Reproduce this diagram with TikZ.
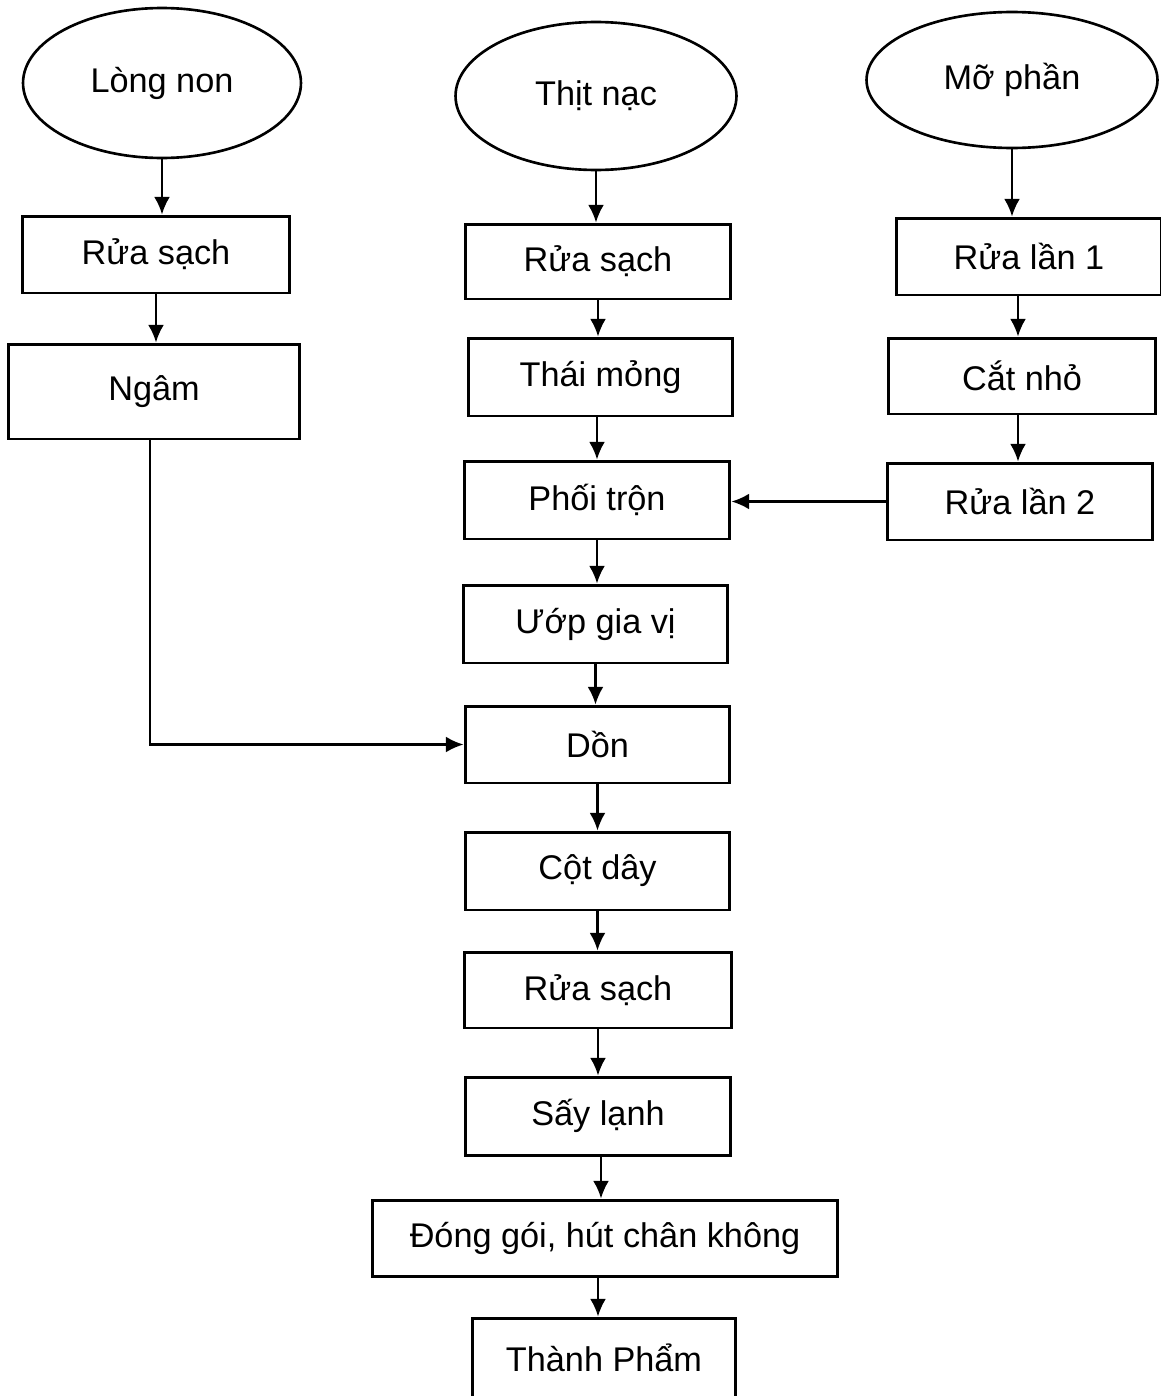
\documentclass[tikz,border=0pt]{standalone}
\usepackage{fontspec}
\setmainfont{Liberation Sans}
\usetikzlibrary{shapes.geometric,arrows.meta}
\begin{document}
\begin{tikzpicture}[x=0.02cm,y=-0.02cm,
  every node/.style={font=\fontsize{19.5}{22}\selectfont, inner sep=0pt},
  oval/.style={draw, line width=1.5pt, ellipse},
  box/.style={draw, line width=1.7pt, rectangle},
  arr/.style={line width=1.3pt, -{Latex[length=10pt,width=9pt]}}]
\useasboundingbox (0,0) rectangle (1160,1396);
% ellipses
\node[oval, minimum width=5.56cm, minimum height=3.0cm] (e1) at (162,83) {Lòng non};
\node[oval, minimum width=5.62cm, minimum height=2.96cm] (e2) at (596,96) {Thịt nạc};
\node[oval, minimum width=5.82cm, minimum height=2.72cm] (e3) at (1012,80) {Mỡ phần};
% left column
\node[box, minimum width=5.36cm, minimum height=1.54cm] (l1) at (156,254.5) {Rửa sạch};
\node[box, minimum width=5.84cm, minimum height=1.9cm] (l2) at (154,391.5) {Ngâm};
% center column
\node[box, minimum width=5.32cm, minimum height=1.5cm] (c1) at (598,261.5) {Rửa sạch};
\node[box, minimum width=5.3cm, minimum height=1.56cm] (c2) at (600.5,377) {Thái mỏng};
\node[box, minimum width=5.32cm, minimum height=1.56cm] (c3) at (597,500) {Phối trộn};
\node[box, minimum width=5.3cm, minimum height=1.56cm] (c4) at (595.5,624) {Ướp gia vị};
\node[box, minimum width=5.3cm, minimum height=1.54cm] (c5) at (597.5,744.5) {Dồn};
\node[box, minimum width=5.3cm, minimum height=1.56cm] (c6) at (597.5,871) {Cột dây};
\node[box, minimum width=5.36cm, minimum height=1.52cm] (c7) at (598,990) {Rửa sạch};
\node[box, minimum width=5.32cm, minimum height=1.56cm] (c8) at (598,1116) {Sấy lạnh};
\node[box, minimum width=9.32cm, minimum height=1.52cm] (c9) at (605,1238) {Đóng gói, hút chân không};
\node[box, minimum width=5.28cm, minimum height=1.6cm] (c10) at (604,1358) {Thành Phẩm};
% right column
\node[box, minimum width=5.3cm, minimum height=1.54cm] (r1) at (1029,256.5) {Rửa lần 1};
\node[box, minimum width=5.36cm, minimum height=1.52cm] (r2) at (1022,376) {Cắt nhỏ};
\node[box, minimum width=5.32cm, minimum height=1.54cm] (r3) at (1020,501.5) {Rửa lần 2};
% connectors
\draw[arr] (e1.south) -- (e1.south |- l1.north);
\draw[arr] (l1.south) -- (l1.south |- l2.north);
\draw[arr] (l2.south -| 150,0) |- (c5.west);
\draw[arr] (e2.south) -- (e2.south |- c1.north);
\draw[arr] (c1.south) -- (c1.south |- c2.north);
\draw[arr] (c2.south -| c3.north) -- (c3.north);
\draw[arr] (c3.south) -- (c3.south |- c4.north);
\draw[arr] (c4.south) -- (c4.south |- c5.north);
\draw[arr] (c5.south) -- (c5.south |- c6.north);
\draw[arr] (c6.south) -- (c6.south |- c7.north);
\draw[arr] (c7.south) -- (c7.south |- c8.north);
\draw[arr] (c8.south -| 601,0) -- (c9.north -| 601,0);
\draw[arr] (c9.south -| 598,0) -- (c10.north -| 598,0);
\draw[arr] (e3.south) -- (e3.south |- r1.north);
\draw[arr] (r1.south -| 1018,0) -- (r2.north -| 1018,0);
\draw[arr] (r2.south -| 1018,0) -- (r3.north -| 1018,0);
\draw[arr] (r3.west) -- (r3.west -| c3.east);
\end{tikzpicture}
\end{document}
